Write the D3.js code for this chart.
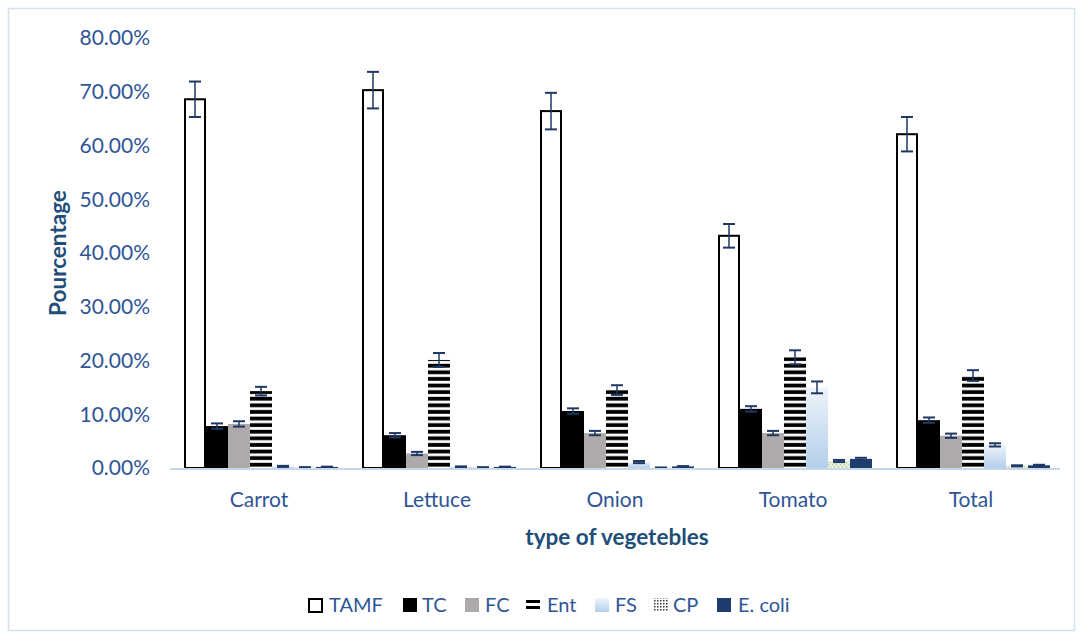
<!DOCTYPE html>
<html>
<head>
<meta charset="utf-8">
<script src="https://cdn.jsdelivr.net/npm/d3@7"></script>
<style>
  body { margin: 0; background: #fff; }
  svg text { font-family: Lato, "Open Sans", sans-serif; }
</style>
</head>
<body>
<svg id="chart" width="1081" height="639"></svg>
<script>
const categories = ["Carrot", "Lettuce", "Onion", "Tomato", "Total"];
const seriesNames = ["TAMF", "TC", "FC", "Ent", "FS", "CP", "E. coli"];

// values in %, one array per series, in category order
const TAMF = [68.6, 70.3, 66.4, 43.2, 62.1];
const TC = [7.8, 6.1, 10.6, 11.0, 8.9];
const FC = [8.2, 2.7, 6.5, 6.5, 6.0];
const Ent = [14.3, 20.1, 14.5, 20.6, 17.2];
const FS = [0.3, 0.2, 1.1, 15.0, 4.3];
const CP = [0.1, 0.1, 0.05, 1.3, 0.4];
const Ecoli = [0.2, 0.2, 0.3, 1.7, 0.5];

const errTAMF = [3.3, 3.4, 3.4, 2.2, 3.2];
const errTC = [0.5, 0.4, 0.5, 0.5, 0.5];
const errFC = [0.5, 0.3, 0.4, 0.4, 0.4];
const errEnt = [0.8, 1.3, 0.9, 1.3, 1.0];
const errFS = [0.1, 0.1, 0.2, 1.1, 0.3];
const errCP = [0.05, 0.05, 0.05, 0.2, 0.1];
const errEcoli = [0.05, 0.05, 0.05, 0.2, 0.1];

const yTicks = [0, 10, 20, 30, 40, 50, 60, 70, 80];

const seriesVals = [TAMF, TC, FC, Ent, FS, CP, Ecoli];
const seriesErr = [errTAMF, errTC, errFC, errEnt, errFS, errCP, errEcoli];

const textColor = "#2f5597";
const errColor = "#1f3864";

const svg = d3.select("#chart");
const defs = svg.append("defs");

// horizontal stripes for Ent
const stripes = defs.append("pattern").attr("id", "stripes")
  .attr("patternUnits", "userSpaceOnUse").attr("width", 8).attr("height", 6.6);
stripes.append("rect").attr("width", 8).attr("height", 6.6).attr("fill", "#fff");
stripes.append("rect").attr("y", 0.8).attr("width", 8).attr("height", 3.8).attr("fill", "#000");

// light blue gradient for FS
const grad = defs.append("linearGradient").attr("id", "fsGrad")
  .attr("x1", 0).attr("y1", 0).attr("x2", 0).attr("y2", 1);
grad.append("stop").attr("offset", "0%").attr("stop-color", "#eef4fb");
grad.append("stop").attr("offset", "100%").attr("stop-color", "#b4cfeb");

// dotted pattern for CP
const cp = defs.append("pattern").attr("id", "cpPat")
  .attr("patternUnits", "userSpaceOnUse").attr("width", 4).attr("height", 4);
cp.append("rect").attr("width", 4).attr("height", 4).attr("fill", "#e4f0d8");
cp.append("rect").attr("width", 1).attr("height", 1).attr("fill", "#a8c495");
cp.append("rect").attr("x", 2).attr("y", 2).attr("width", 1).attr("height", 1).attr("fill", "#a8c495");

const legendCp = defs.append("pattern").attr("id", "cpLeg")
  .attr("patternUnits", "userSpaceOnUse").attr("width", 3).attr("height", 3);
legendCp.append("rect").attr("width", 3).attr("height", 3).attr("fill", "#fff");
legendCp.append("rect").attr("width", 1.5).attr("height", 1.5).attr("fill", "#333");

const fills = ["#fff", "#000", "#aeaaaa", "url(#stripes)", "url(#fsGrad)", "url(#cpPat)", "#1f3c6e"];
const strokes = ["#000", "none", "none", "none", "none", "none", "none"];

// outer border
svg.append("rect").attr("x", 8.5).attr("y", 8.5).attr("width", 1066).attr("height", 622)
  .attr("fill", "none").attr("stroke", "#d5e1f0").attr("stroke-width", 1.5);

const x0 = d3.scaleBand().domain(categories).range([170, 1060]).paddingInner(0).paddingOuter(0);
const x1 = d3.scaleBand().domain(seriesNames).range([14, x0.bandwidth() - 10]).padding(0);
const y = d3.scaleLinear().domain([0, 80]).range([468, 38]);

// y axis labels
svg.append("g").selectAll("text").data(yTicks).join("text")
  .attr("x", 150).attr("y", d => y(d)).attr("dy", "0.35em")
  .attr("text-anchor", "end").attr("fill", textColor).attr("font-size", 21)
  .text(d => d.toFixed(2) + "%");

// bars
const groups = svg.append("g").selectAll("g").data(categories).join("g")
  .attr("transform", d => `translate(${x0(d)},0)`);

groups.each(function (cat, ci) {
  const g = d3.select(this);
  seriesNames.forEach((s, si) => {
    const v = seriesVals[si][ci];
    const e = seriesErr[si][ci];
    const bx = x1(s);
    const bw = x1.bandwidth();
    g.append("rect")
      .attr("x", bx + (si === 0 ? 1 : 0)).attr("y", y(v))
      .attr("width", bw - (si === 0 ? 2 : 0)).attr("height", y(0) - y(v))
      .attr("fill", fills[si])
      .attr("stroke", strokes[si]).attr("stroke-width", 2);
    const cx = bx + bw / 2;
    g.append("line").attr("x1", cx).attr("x2", cx)
      .attr("y1", y(v + e)).attr("y2", y(Math.max(0, v - e)))
      .attr("stroke", errColor).attr("stroke-width", 1.5);
    [v + e, Math.max(0, v - e)].forEach(t => {
      g.append("line").attr("x1", cx - 6).attr("x2", cx + 6)
        .attr("y1", y(t)).attr("y2", y(t))
        .attr("stroke", errColor).attr("stroke-width", 2);
    });
  });
});

// baseline
svg.append("line").attr("x1", 170).attr("x2", 1060).attr("y1", y(0) + 1).attr("y2", y(0) + 1)
  .attr("stroke", "#c9d7ea").attr("stroke-width", 2);

// x labels
svg.append("g").selectAll("text").data(categories).join("text")
  .attr("x", d => x0(d) + x0.bandwidth() / 2).attr("y", 500).attr("dy", "0.35em")
  .attr("text-anchor", "middle").attr("fill", textColor).attr("font-size", 21)
  .text(d => d);

// axis titles
svg.append("text").attr("x", 617).attr("y", 537).attr("dy", "0.35em").attr("text-anchor", "middle")
  .attr("fill", "#1f4e79").attr("font-size", 22.5).attr("font-weight", "bold")
  .text("type of vegetebles");
svg.append("text").attr("transform", "translate(58,253) rotate(-90)").attr("dy", "0.35em")
  .attr("text-anchor", "middle")
  .attr("fill", "#1f4e79").attr("font-size", 22.5).attr("font-weight", "bold")
  .text("Pourcentage");

// legend
const legendSq = [309, 403, 465, 526, 595, 654, 717];
const legendTx = [329, 422, 485, 547, 615, 673, 738];
const legendFill = ["#fff", "#000", "#aeaaaa", "none", "url(#fsGrad)", "url(#cpLeg)", "#1f3c6e"];
const leg = svg.append("g").selectAll("g").data(seriesNames).join("g");
leg.each(function (d, i) {
  const g = d3.select(this);
  const sx = legendSq[i];
  if (i === 3) {
    g.append("rect").attr("x", sx).attr("y", 600).attr("width", 14).attr("height", 3).attr("fill", "#000");
    g.append("rect").attr("x", sx).attr("y", 606).attr("width", 14).attr("height", 3).attr("fill", "#000");
  } else if (i === 0) {
    g.append("rect").attr("x", sx).attr("y", 599).attr("width", 13).attr("height", 13)
      .attr("fill", "#fff").attr("stroke", "#000").attr("stroke-width", 2);
  } else {
    g.append("rect").attr("x", sx).attr("y", 598).attr("width", 14).attr("height", 14)
      .attr("fill", legendFill[i]);
  }
  g.append("text").attr("x", legendTx[i]).attr("y", 605).attr("dy", "0.36em")
    .attr("fill", textColor).attr("font-size", 20).text(d);
});
</script>
</body>
</html>
